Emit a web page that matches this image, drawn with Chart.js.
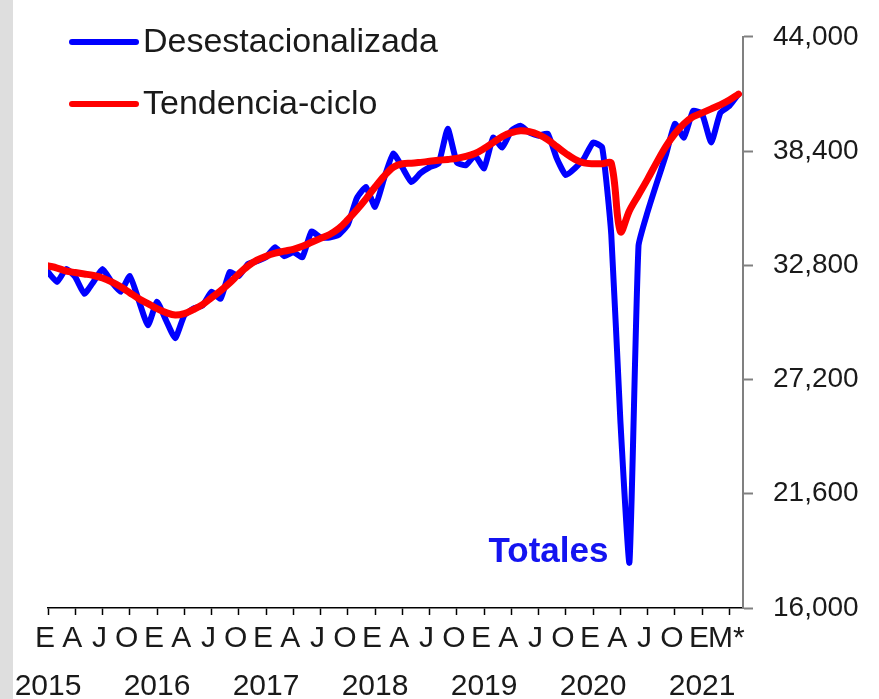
<!DOCTYPE html>
<html>
<head>
<meta charset="utf-8">
<script src="https://cdn.jsdelivr.net/npm/chart.js@4.4.1/dist/chart.umd.min.js"></script>
<style>
  html, body { margin: 0; padding: 0; }
  body {
    width: 879px; height: 699px; overflow: hidden;
    background: linear-gradient(to right, #dedede 0, #dedede 13px, #ffffff 13px);
  }
  #grafica { display: block; }
</style>
</head>
<body>
<canvas id="grafica" width="879" height="699"></canvas>
<script>
// Datos: serie mensual de enero 2015 a mayo 2021
const anios = ['2015', '2016', '2017', '2018', '2019', '2020', '2021'];
const letrasMes = ['E', 'F', 'M', 'A', 'M', 'J', 'J', 'A', 'S', 'O', 'N', 'D'];
const ticksY = [16000, 21600, 27200, 32800, 38400, 44000];

const desestacionalizada = [
    32470, 31985, 32615, 32225, 31405, 31985, 32615, 31985, 31500, 32275, 31065, 29855, // 2015
    31015, 30095, 29225, 30340, 30675, 30825, 31500, 31160, 32470, 32275, 32855, 33000, // 2016
    33195, 33680, 33245, 33440, 33195, 34455, 34165, 34165, 34300, 34790, 36100, 36635, // 2017
    35665, 37070, 38280, 37600, 36880, 37315, 37605, 37795, 39495, 37845, 37700, 38185, // 2018
    37555, 39060, 38575, 39400, 39640, 39300, 39155, 39250, 38040, 37215, 37555, 38040, // 2019
    38815, 38575, 34310, 25200, 18230, 33760, 35425, 36830, 38185, 39735, 39060, 40365, // 2020
    40220, 38815, 40270, 40610, 41190                                                   // 2021
];

const tendenciaCiclo = [
    32775, 32665, 32520, 32445, 32375, 32300, 32180, 31985, 31745, 31455, 31160, 30920,
    30675, 30480, 30360, 30435, 30630, 30870, 31210, 31550, 31935, 32375, 32760, 33050,
    33245, 33390, 33490, 33585, 33730, 33925, 34120, 34310, 34600, 35035, 35520, 36055,
    36635, 37170, 37605, 37775, 37800, 37845, 37895, 37945, 37990, 38040, 38135, 38280,
    38525, 38815, 39105, 39300, 39395, 39350, 39205, 38960, 38620, 38280, 37990, 37820,
    37775, 37775, 37800, 34455, 35475, 36250, 37025, 37845, 38620, 39250, 39735, 40075,
    40270, 40465, 40660, 40900, 41190
];

const fuente = '"Liberation Sans", Arial, sans-serif';
const colorTexto = '#1a1a1a';
const nMeses = desestacionalizada.length;

// letra del mes para cada marca trimestral; el último año solo lleva E y M*
function letraTick(i) {
    if (i >= nMeses - 5) {
        if (i % 12 === 0) return 'E';
        if (i === nMeses - 2) return 'M*';
        return '';
    }
    return letrasMes[i % 12];
}

const puntosDes = desestacionalizada.map((v, i) => ({ x: i, y: v }));
const puntosTen = tendenciaCiclo.map((v, i) => ({ x: i, y: v }));

// Leyenda y rótulo dibujados sobre el área
const textosExtra = {
    id: 'textosExtra',
    afterDraw(chart) {
        const ctx = chart.ctx;
        ctx.save();
        const items = [
            { texto: 'Desestacionalizada', color: '#0000ff', y: 42 },
            { texto: 'Tendencia-ciclo', color: '#ff0000', y: 104 }
        ];
        items.forEach(it => {
            ctx.strokeStyle = it.color;
            ctx.lineWidth = 6;
            ctx.lineCap = 'round';
            ctx.beginPath();
            ctx.moveTo(72, it.y);
            ctx.lineTo(136, it.y);
            ctx.stroke();
            ctx.fillStyle = colorTexto;
            ctx.font = '34px ' + fuente;
            ctx.textBaseline = 'middle';
            ctx.textAlign = 'left';
            ctx.fillText(it.texto, 143, it.y + 1);
        });

        // "Totales" junto al mínimo de la serie
        const meta = chart.getDatasetMeta(1);
        let iMin = 0;
        desestacionalizada.forEach((v, i) => { if (v < desestacionalizada[iMin]) iMin = i; });
        const p = meta.data[iMin];
        ctx.fillStyle = '#1414f0';
        ctx.font = 'bold 35px ' + fuente;
        ctx.textAlign = 'right';
        ctx.textBaseline = 'middle';
        ctx.fillText('Totales', p.x - 21, p.y - 10);
        ctx.restore();
    }
};

new Chart(document.getElementById('grafica'), {
    type: 'line',
    data: {
        datasets: [
            {
                label: 'Tendencia-ciclo',
                data: puntosTen,
                borderColor: '#ff0000',
                borderWidth: 7,
                tension: 0.35,
                pointRadius: 0,
                borderCapStyle: 'round',
                borderJoinStyle: 'round',
                order: 1
            },
            {
                label: 'Desestacionalizada',
                data: puntosDes,
                borderColor: '#0000ff',
                borderWidth: 6,
                tension: 0.15,
                pointRadius: 0,
                borderCapStyle: 'round',
                borderJoinStyle: 'round',
                order: 2
            }
        ]
    },
    options: {
        responsive: false,
        animation: false,
        devicePixelRatio: 1,
        layout: { padding: { left: 48, top: 30, right: 0, bottom: 0 } },
        plugins: { legend: { display: false }, tooltip: { enabled: false } },
        scales: {
            x: {
                type: 'linear',
                min: 0,
                max: nMeses - 0.5,
                weight: 0,
                afterBuildTicks(scale) {
                    const t = [];
                    for (let i = 0; i < nMeses; i += 3) t.push({ value: i });
                    scale.ticks = t;
                },
                afterFit(scale) { scale.height = 52; },
                border: { color: '#000000', width: 1.5 },
                grid: {
                    drawOnChartArea: false,
                    tickLength: 7,
                    tickWidth: 1.5,
                    tickColor: '#000000'
                },
                ticks: {
                    autoSkip: false,
                    maxRotation: 0,
                    padding: 6,
                    labelOffset: -3,
                    color: colorTexto,
                    font: { family: fuente, size: 30 },
                    callback: v => letraTick(v)
                }
            },
            anio: {
                type: 'linear',
                position: 'bottom',
                min: 0,
                max: nMeses - 0.5,
                weight: 1,
                afterBuildTicks(scale) {
                    scale.ticks = anios.map((a, k) => ({ value: k * 12 }));
                },
                afterFit(scale) { scale.height = 39; },
                border: { display: false },
                grid: { display: false },
                ticks: {
                    autoSkip: false,
                    maxRotation: 0,
                    padding: 1,
                    color: colorTexto,
                    font: { family: fuente, size: 30 },
                    callback: v => anios[v / 12]
                }
            },
            y: {
                position: 'right',
                min: ticksY[0],
                max: ticksY[ticksY.length - 1],
                afterBuildTicks(scale) { scale.ticks = ticksY.map(v => ({ value: v })); },
                afterFit(scale) { scale.width = 136; },
                border: { color: '#808080', width: 2 },
                grid: {
                    drawOnChartArea: false,
                    tickLength: 10,
                    tickWidth: 2,
                    tickColor: '#808080'
                },
                ticks: {
                    padding: 20,
                    color: colorTexto,
                    font: { family: fuente, size: 28 },
                    callback: v => v.toLocaleString('en-US')
                }
            }
        }
    },
    plugins: [textosExtra]
});
</script>
</body>
</html>
